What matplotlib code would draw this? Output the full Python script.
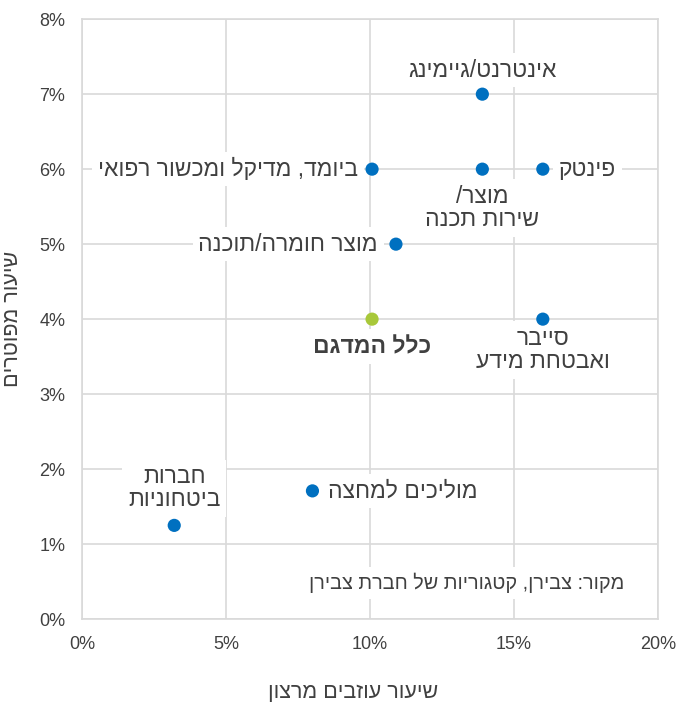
import matplotlib
matplotlib.use("Agg")
import matplotlib.pyplot as plt
from matplotlib.ticker import FuncFormatter

plt.rcParams['font.family'] = ['Liberation Sans', 'DejaVu Sans']

# נתונים: שיעור עוזבים מרצון (x), שיעור מפוטרים (y)
names = ['אינטרנט/גיימינג', 'מוצר/\nשירות תכנה', 'פינטק', 'ביומד, מדיקל ומכשור רפואי',
         'מוצר חומרה/תוכנה', 'כלל המדגם', 'סייבר\nואבטחת מידע', 'מוליכים למחצה',
         'חברות\nביטחוניות']
quit_rate = [13.9, 13.9, 16.0, 10.07, 10.9, 10.07, 16.0, 8.0, 3.2]
fire_rate = [7.0, 6.0, 6.0, 6.0, 5.0, 4.0, 4.0, 1.71, 1.25]
is_total = [False, False, False, False, False, True, False, False, False]

# label placement (offset in pixels, alignment)
offsets = [(0, 24, 'center', 'center'), (0, -16, 'center', 'top'), (16, 0, 'left', 'center'),
           (-14, 0, 'right', 'center'), (-18, 0, 'right', 'center'), (0, -16, 'center', 'top'),
           (0, -8, 'center', 'top'), (16, 0, 'left', 'center'), (0, 14, 'center', 'bottom')]

blue = '#0070C0'
green = '#A8C83A'
txt = '#404040'


def rtl(s):
    # matplotlib has no bidi support, so reverse every line
    return '\n'.join(line[::-1] for line in s.split('\n'))


fig = plt.figure(figsize=(6.84, 7.10), dpi=100)
ax = fig.add_axes([0.12, 0.128, 0.842, 0.845])

colors = [green if t else blue for t in is_total]
ax.scatter(quit_rate, fire_rate, s=90, c=colors, zorder=4, linewidths=0)

for i, name in enumerate(names):
    dx, dy, ha, va = offsets[i]
    ax.annotate(rtl(name), xy=(quit_rate[i], fire_rate[i]), xytext=(dx, dy),
                textcoords='offset pixels', ha=ha, va=va, fontsize=16.5, color=txt,
                fontweight='bold' if is_total[i] else 'normal', linespacing=1.0,
                multialignment='center', zorder=3,
                bbox=dict(boxstyle='square,pad=0.25', fc='white', ec='none'))

ax.text(0.942, 0.06, rtl('מקור: צבירן, קטגוריות של חברת צבירן'), transform=ax.transAxes,
        ha='right', va='center', fontsize=14.3, color=txt, zorder=3,
        bbox=dict(boxstyle='square,pad=0.3', fc='white', ec='none'))

ax.set_xlim(0, 20)
ax.set_ylim(0, 8)
ax.set_xticks([0, 5, 10, 15, 20])
ax.set_yticks(range(0, 9))
ax.xaxis.set_major_formatter(FuncFormatter(lambda v, p: f'{v:.0f}%'))
ax.yaxis.set_major_formatter(FuncFormatter(lambda v, p: f'{v:.0f}%'))
ax.tick_params(length=0, labelsize=13, labelcolor=txt, pad=12)
ax.grid(True, color='#d9d9d9', linewidth=1.2, zorder=0)
ax.set_axisbelow(True)
for sp in ax.spines.values():
    sp.set_color('#d9d9d9')
    sp.set_linewidth(1.2)

ax.set_xlabel(rtl('שיעור עוזבים מרצון'), fontsize=15.5, color=txt)
ax.set_ylabel(rtl('שיעור מפוטרים'), fontsize=15.5, color=txt, labelpad=12)
ax.xaxis.set_label_coords(0.47, -0.105)

fig.savefig('out.png', dpi=100)
